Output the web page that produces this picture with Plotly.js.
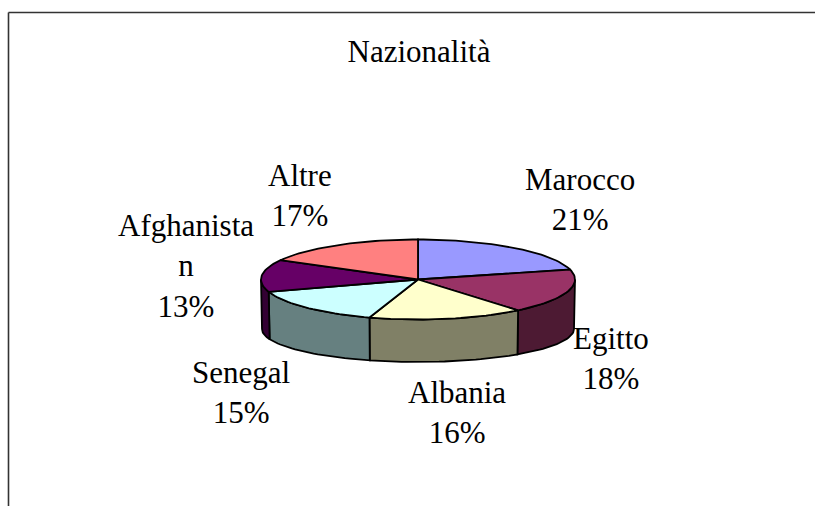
<!DOCTYPE html>
<html>
<head>
<meta charset="utf-8">
<script src="https://cdn.plot.ly/plotly-3.0.1.min.js"></script>
<style>
  html, body { margin: 0; padding: 0; background: #ffffff; overflow: hidden; }
  #chart { width: 815px; height: 506px; }
</style>
</head>
<body>
<div id="chart"></div>
<script>
// ---- Data ----
const categories = ['Marocco', 'Egitto', 'Albania', 'Senegal', 'Afghanistan', 'Altre'];
const values = [21, 18, 16, 15, 13, 17];
const labelNames = ['Marocco', 'Egitto', 'Albania', 'Senegal', 'Afghanista<br>n', 'Altre'];
const chartTitle = 'Nazionalità';

// ---- Styles ----
const topColors  = ['#9999FF', '#993366', '#FFFFCC', '#CCFFFF', '#660066', '#FF8080'];
const sideColors = ['#4D4D80', '#4D1A33', '#808066', '#668080', '#330033', '#804040'];
const fontFamily = 'Liberation Serif';
const fontSize = 31;

// ---- Geometry (pixel space of the 815x506 canvas) ----
const geom = { cx: 418, cy: 279.5, rx: 157, ry: 40, cyB: 329, ryB: 33, rxB: 156 };
// label anchor: center x and first-line baseline y
const labelPos = [[580, 189], [611, 348], [457, 402], [241, 382], [186, 235], [300, 185]];
const titlePos = [419, 62];

const total = values.reduce((a, b) => a + b, 0);
const deg = Math.PI / 180;

function topPt(t) { return [geom.cx + geom.rx * Math.sin(t * deg), geom.cy - geom.ry * Math.cos(t * deg)]; }
function botPt(t) { return [geom.cx + geom.rxB * Math.sin(t * deg), geom.cyB - geom.ryB * Math.cos(t * deg)]; }

const sideTraces = [];
const topTraces = [];
let acc = 0;
values.forEach((v, i) => {
  const t0 = acc / total * 360;
  acc += v;
  const t1 = acc / total * 360;
  const xs = [geom.cx], ys = [geom.cy];
  const n = Math.max(8, Math.ceil((t1 - t0) / 2));
  for (let k = 0; k <= n; k++) {
    const p = topPt(t0 + (t1 - t0) * k / n);
    xs.push(p[0]); ys.push(p[1]);
  }
  xs.push(geom.cx); ys.push(geom.cy);
  topTraces.push({
    type: 'scatter', mode: 'lines', x: xs, y: ys, fill: 'toself', name: categories[i],
    fillcolor: topColors[i], line: { color: '#000000', width: 1.8 },
    hoverinfo: 'skip', showlegend: false
  });
  const a = Math.max(t0, 90), b = Math.min(t1, 270);
  if (b > a) {
    const sx = [], sy = [];
    const m = Math.max(6, Math.ceil((b - a) / 2));
    for (let k = 0; k <= m; k++) { const p = topPt(a + (b - a) * k / m); sx.push(p[0]); sy.push(p[1]); }
    for (let k = m; k >= 0; k--) { const p = botPt(a + (b - a) * k / m); sx.push(p[0]); sy.push(p[1]); }
    sx.push(sx[0]); sy.push(sy[0]);
    sideTraces.push({
      type: 'scatter', mode: 'lines', x: sx, y: sy, fill: 'toself', name: categories[i] + ' side',
      fillcolor: sideColors[i], line: { color: '#000000', width: 1.8 },
      hoverinfo: 'skip', showlegend: false
    });
  }
});

const annotations = values.map((v, i) => ({
  x: labelPos[i][0], y: labelPos[i][1] - 27.6, xref: 'x', yref: 'y',
  xanchor: 'center', yanchor: 'top', showarrow: false, borderpad: 0,
  align: 'center',
  text: labelNames[i] + '<br>' + Math.round(v / total * 100) + '%',
  font: { family: fontFamily, size: fontSize, color: '#000000' }
}));

const layout = {
  width: 815, height: 506,
  margin: { l: 0, r: 0, t: 0, b: 0, pad: 0 },
  paper_bgcolor: '#ffffff', plot_bgcolor: '#ffffff',
  font: { family: fontFamily, size: fontSize, color: '#000000' },
  title: {
    text: chartTitle, x: titlePos[0] / 815, xanchor: 'center', xref: 'paper',
    y: 1 - (titlePos[1] - 11) / 506, yanchor: 'middle', yref: 'container',
    font: { family: fontFamily, size: fontSize, color: '#000000' }
  },
  xaxis: { range: [0, 815], visible: false, fixedrange: true },
  yaxis: { range: [506, 0], visible: false, fixedrange: true },
  shapes: [
    { type: 'line', xref: 'paper', yref: 'paper', x0: 8.5 / 815, y0: 1 - 12.5 / 506, x1: 1, y1: 1 - 12.5 / 506,
      line: { color: '#333333', width: 1.6 }, layer: 'below' },
    { type: 'line', xref: 'paper', yref: 'paper', x0: 8.5 / 815, y0: 1 - 12.5 / 506, x1: 8.5 / 815, y1: 0,
      line: { color: '#333333', width: 1.6 }, layer: 'below' }
  ],
  annotations: annotations,
  showlegend: false
};

Plotly.newPlot('chart', sideTraces.concat(topTraces), layout, { staticPlot: true, displayModeBar: false });
</script>
</body>
</html>
